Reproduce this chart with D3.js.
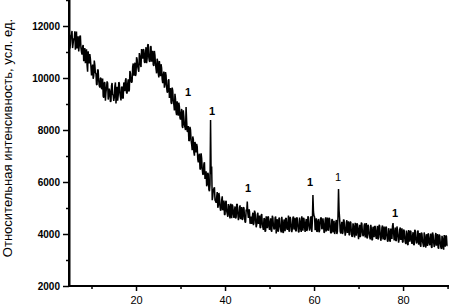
<!DOCTYPE html>
<html><head><meta charset="utf-8">
<script src="https://cdn.jsdelivr.net/npm/d3@7"></script>
<style>body{margin:0;background:#fff}svg{display:block}</style>
</head><body>
<svg id="c" width="449" height="305"></svg>
<script>
// 2θ scan grid (degrees)
const angleStart = 5;
const angleStep = 0.25;
// intensity at 5.00, 5.25, 5.50 ... 90.00°
const intensity = [
11850,11280,11670,11150, 11530,11800,11290,11140, 11600,11240,11630,11000, 11200,10650,11150,10770,
10500,11030,10560,10740, 10100,10520,10080,10500, 10170,9740,10300,9700, 9990,9590,9980,9240,
9830,9450,9870,9170, 9590,9080,9710,9380, 9120,9690,9020,9660, 9330,9800,9260,9640,
9210,9830,9490,9990, 9410,9950,9540,10180, 9820,10430,10090,10590, 10150,10720,10340,10960,
10520,11110,10740,11090, 10580,11185,10740,11300, 10650,11215,10630,11045, 10460,10880,10350,10740,
10190,10650,10070,10390, 9800,10250,9750,10100, 9450,9910,9230,9610, 9000,9510,8980,9390,
8700,9100,8550,8900, 8400,8810,8080,8510, 8100,8880,7950,8150, 7600,8000,7450,7750,
7150,7540,7140,7360, 6750,7090,6480,6910, 6300,6690,6120,6410, 5900,6300,5650,8380,
6600,5450,5750,5300, 5200,5610,5090,5420, 4900,5310,4910,5290, 4750,5280,4770,5150,
4730,5165,4610,5060, 4620,5060,4650,5140, 4530,5020,4570,5040, 4580,5020,4450,4940,
5250,4620,4880,4450, 4390,4820,4420,4830, 4260,4740,4390,4710, 4230,4770,4260,4600,
4090,4680,4220,4660, 4160,4600,4090,4630, 4180,4620,4020,4570, 4110,4610,4160,4660,
4060,4560,4110,4610, 4160,4710,4110,4560, 4070,4620,4170,4620, 4130,4580,4080,4630,
4180,4680,4130,4580, 4080,4580,4180,4630, 4130,4630,4080,5500, 4700,4150,4600,4100,
4580,4130,4630,4180, 4600,4050,4550,4100, 4630,4130,4580,4030, 4560,4060,4510,4110,
4540,4090,5730,4600, 4020,4470,4070,4520, 3940,4440,4040,4490, 3960,4460,3910,4410,
3980,4430,3930,4380, 3800,4350,3950,4400, 3920,4320,3870,4420, 3850,4300,3900,4350,
3780,4280,3880,4280, 3810,4310,3860,4310, 3740,4240,3790,4290, 3820,4270,3720,4220,
3760,4210,3810,4420, 3750,4250,3750,4170, 3670,4170,3770,4220, 3680,4130,3680,4130,
3600,4150,3700,4100, 3620,4070,3570,4120, 3640,4090,3590,4040, 3510,4010,3610,4060,
3540,3990,3540,3990, 3570,4020,3470,3970, 3500,3950,3550,4000, 3430,3930,3480,3930,
3460,3960,3510,3910,
3550
];
// intensity at the half steps 5.125, 5.375 ... 89.875°
const intensityHalf = [
11130,11630,11810,11330, 11470,11090,11790,11310, 11020,11600,11160,10900, 11270,10850,10570,11100,
10240,10740,10920,10440, 10350,9970,10670,10190, 9750,10330,9890,9630, 10000,9580,9300,9830,
9130,9630,9810,9330, 9490,9110,9810,9330, 9250,9830,9390,9130, 9840,9420,9140,9670,
9230,9730,9910,9430, 9770,9480,10270,9880, 9870,10560,10230,10080, 10800,10450,10240,10840,
10420,10920,11100,10620, 10950,10570,11270,10790, 10630,11210,10770,10510, 11040,10540,10180,10630,
10020,10430,10530,9960, 10110,9630,10230,9650, 9460,9950,9420,9070, 9630,9120,8750,9190,
8570,8970,9050,8470, 8620,8150,8760,8190, 8000,8350,7940,7580, 8120,7600,7220,7650,
7010,7400,7470,6880, 7000,6510,7100,6510, 6290,6760,6210,5840, 6350,5700,5900,6300,
5300,5700,5800,5260, 5430,5010,5580,5060, 4950,5450,5000,4740, 5220,4880,4660,5080,
4600,5000,5140,4760, 4900,4600,5150,4770, 4640,5100,4750,4540, 5010,4670,4450,4870,
4800,4950,4400,4670, 4650,4340,4900,4520, 4360,4820,4470,4260, 4720,4380,4160,4580,
4120,4520,4660,4280, 4450,4140,4700,4320, 4210,4670,4320,4110, 4620,4280,4060,4480,
4060,4460,4600,4220, 4410,4100,4660,4280, 4210,4670,4320,4110, 4640,4300,4080,4500,
4080,4480,4620,4240, 4430,4120,4680,4300, 4220,4680,4500,4850, 4650,4310,4090,4510,
4070,4470,4610,4230, 4390,4080,4640,4260, 4160,4620,4270,4060, 4560,4220,4000,4420,
4000,4650,4900,4100, 4310,4000,4560,4180, 4070,4530,4180,3970, 4460,4120,3900,4320,
3870,4270,4410,4030, 4190,3880,4440,4060, 3950,4410,4060,3850, 4350,4010,3790,4210,
3770,4170,4310,3930, 4100,3790,4350,3970, 3870,4330,3980,3770, 4270,3940,3720,4130,
3700,4100,4300,4050, 4030,3730,4290,3910, 3790,4250,3900,3690, 4170,3840,3620,4030,
3580,3980,4120,3750, 3900,3600,4160,3780, 3670,4130,3780,3570, 4060,3720,3500,3910,
3480,3880,4020,3640, 3810,3500,4060,3680, 3580,4040,3690,3480, 3980,3640,3420,3830,
3400,3800,3940,3560
];
const xMajorTicks = [20, 40, 60, 80];
const xMinorTicks = [10, 30, 50, 70, 90];
const yMajorTicks = [2000, 4000, 6000, 8000, 10000, 12000];
const yMinorTicks = [3000, 5000, 7000, 9000, 11000, 13000];
const peakAngles = [31.7, 37.1, 45.2, 59.1, 65.4, 78.2];
const peakHeights = [9460, 8730, 5770, 6000, 6190, 4810];
const peakTexts = ["1", "1", "1", "1", "1", "1"];
const yTitle = "Относительная интенсивность, усл. ед.";

const svg = d3.select("#c");
const x = d3.scaleLinear().domain([5, 90.3]).range([69.25, 448.9]);
const y = d3.scaleLinear().domain([2000, 13000]).range([286, 0]);
const font = "'Liberation Sans', Arial, sans-serif";

const data = [];
intensity.forEach((v, i) => {
  data.push([angleStart + i * angleStep, v]);
  if (i < intensityHalf.length) data.push([angleStart + (i + 0.5) * angleStep, intensityHalf[i]]);
});

svg.append("path")
  .datum(data)
  .attr("fill", "none")
  .attr("stroke", "#000")
  .attr("stroke-width", 1.5)
  .attr("stroke-linejoin", "bevel")
  .attr("d", d3.line().x(d => x(d[0])).y(d => y(d[1])));

// axes
const gx = svg.append("g").attr("transform", "translate(0,286)");
gx.call(d3.axisBottom(x).tickValues(xMajorTicks).tickSize(5).tickPadding(5).tickFormat(d3.format("d")));
const gxm = svg.append("g").attr("transform", "translate(0,286)");
gxm.call(d3.axisBottom(x).tickValues(xMinorTicks).tickSize(3).tickFormat(""));
const gy = svg.append("g").attr("transform", "translate(69,0)");
gy.call(d3.axisLeft(y).tickValues(yMajorTicks).tickSize(6).tickPadding(3).tickFormat(d3.format("d")));
const gym = svg.append("g").attr("transform", "translate(69,0)");
gym.call(d3.axisLeft(y).tickValues(yMinorTicks).tickSize(3).tickFormat(""));

[gx, gxm, gy, gym].forEach(g => {
  g.select(".domain").remove();
  g.selectAll(".tick line").attr("stroke", "#000").attr("stroke-width", 1.5);
});
gx.selectAll("text").attr("font-family", font).attr("font-size", 11).attr("fill", "#000");
gy.selectAll("text").attr("font-family", font).attr("font-size", 10).attr("font-weight", "bold").attr("fill", "#000");

// axis lines
svg.append("line").attr("x1", x(5)).attr("x2", 449).attr("y1", y(2000)).attr("y2", y(2000))
  .attr("stroke", "#000").attr("stroke-width", 2);
svg.append("line").attr("x1", x(5)).attr("x2", x(5)).attr("y1", 0).attr("y2", y(2000) + 1)
  .attr("stroke", "#000").attr("stroke-width", 2.5);

// peak labels
svg.selectAll("text.peak").data(peakAngles).enter().append("text")
  .attr("class", "peak")
  .attr("x", (d) => x(d))
  .attr("y", (d, i) => y(peakHeights[i]))
  .attr("dy", "0.35em")
  .attr("text-anchor", "middle")
  .attr("font-family", font)
  .attr("font-size", 11)
  .attr("font-weight", (d, i) => i === 4 ? "normal" : "bold")
  .attr("fill", "#000")
  .text((d, i) => peakTexts[i]);

// y title
svg.append("text")
  .attr("transform", "translate(12,138) rotate(-90)")
  .attr("text-anchor", "middle")
  .attr("font-family", font)
  .attr("font-size", 13)
  .attr("fill", "#000")
  .text(yTitle);
</script>
</body></html>
